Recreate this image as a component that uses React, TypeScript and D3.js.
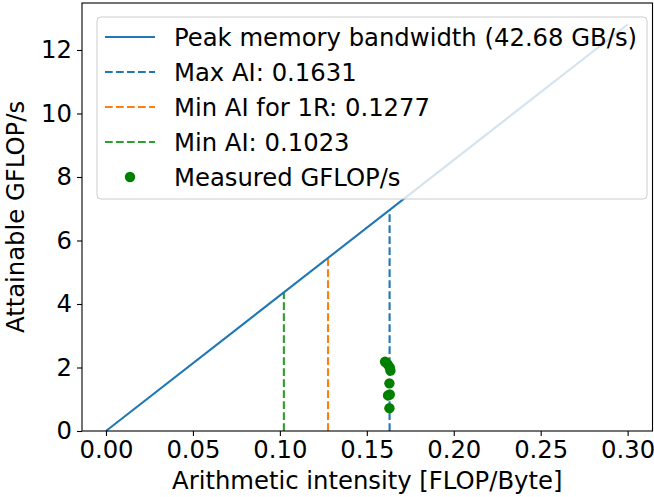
import React, { useRef, useEffect } from 'react';
import * as d3 from 'd3';

// constants
const width = 654;
const height = 497;
const plot = { left: 82, right: 652.5, top: 3, bottom: 431 };
const font = 'DejaVu Sans, sans-serif';
const fontSize = 24.3;

// data
const bandwidth = 42.68;
const lineX = [0, 0.3];
const aiLabels = ['Max AI: 0.1631', 'Min AI for 1R: 0.1277', 'Min AI: 0.1023'];
const aiValues = [0.1631, 0.1277, 0.1023];
const aiColours = ['#1f77b4', '#ff7f0e', '#2ca02c'];
const measuredAI = [0.1605, 0.1620, 0.1632, 0.1636, 0.1630, 0.1622, 0.1632, 0.1630];
const measuredGflops = [2.18, 2.1, 2.0, 1.9, 1.5, 1.12, 1.15, 0.72];
const xTicks = [0, 0.05, 0.1, 0.15, 0.2, 0.25, 0.3];
const yTicks = [0, 2, 4, 6, 8, 10, 12];

const App = () => {
  const xScale = d3.scaleLinear().domain([-0.0138, 0.3143]).range([plot.left, plot.right]);
  const yScale = d3.scaleLinear().domain([0, 13.48]).range([plot.bottom, plot.top]);

  const xAxisRef = useRef<SVGGElement>(null);
  const yAxisRef = useRef<SVGGElement>(null);

  useEffect(() => {
    const xAxis = d3.axisBottom(xScale).tickValues(xTicks).tickFormat(d3.format('.2f'))
      .tickSize(5).tickPadding(5);
    d3.select(xAxisRef.current).call(xAxis)
      .call(g => g.select('.domain').remove())
      .call(g => g.selectAll('text').attr('font-size', fontSize).attr('font-family', font).attr('fill', '#000'));
    const yAxis = d3.axisLeft(yScale).tickValues(yTicks).tickFormat(d3.format('d'))
      .tickSize(5).tickPadding(5);
    d3.select(yAxisRef.current).call(yAxis)
      .call(g => g.select('.domain').remove())
      .call(g => g.selectAll('text').attr('font-size', fontSize).attr('font-family', font).attr('fill', '#000'));
    d3.selectAll('.tick line').attr('stroke', '#000').attr('stroke-width', 1.1);
  }, []);

  const peakLine = d3.line<number>()
    .x(d => xScale(d))
    .y(d => yScale(d * bandwidth));

  const rowY = [37, 72, 107, 142, 177];
  const legendItems = [
    { label: `Peak memory bandwidth (${bandwidth} GB/s)`, colour: '#1f77b4', dash: null, dot: false },
    ...aiLabels.map((l, i) => ({ label: l, colour: aiColours[i], dash: '7.7,3.3', dot: false })),
    { label: 'Measured GFLOP/s', colour: '#008000', dash: null, dot: true },
  ];

  return (
    <svg width={width} height={height} style={{ position: 'absolute', left: 0, top: 0 }}>
      <rect x={0} y={0} width={width} height={height} fill="#fff" />
      {aiValues.map((v, i) => (
        <line key={i} x1={xScale(v)} x2={xScale(v)} y1={yScale(0)} y2={yScale(v * bandwidth)}
          stroke={aiColours[i]} strokeWidth={2.1} strokeDasharray="7.7,3.3" />
      ))}
      <path d={peakLine(lineX) || ''} fill="none" stroke="#1f77b4" strokeWidth={2.1} />
      {measuredAI.map((v, i) => (
        <circle key={i} cx={xScale(v)} cy={yScale(measuredGflops[i])} r={5.2} fill="#008000" />
      ))}
      <rect x={plot.left} y={plot.top} width={plot.right - plot.left} height={plot.bottom - plot.top}
        fill="none" stroke="#000" strokeWidth={1.1} />
      <g ref={xAxisRef} transform={`translate(0,${plot.bottom})`}></g>
      <g ref={yAxisRef} transform={`translate(${plot.left},0)`}></g>
      <text x={(plot.left + plot.right) / 2} y={489} textAnchor="middle" fontFamily={font} fontSize={fontSize}>
        Arithmetic intensity [FLOP/Byte]
      </text>
      <text transform={`translate(24,${(plot.top + plot.bottom) / 2}) rotate(-90)`} textAnchor="middle"
        fontFamily={font} fontSize={fontSize}>
        Attainable GFLOP/s
      </text>
      <g>
        <rect x={97} y={17} width={550} height={182} rx={4} fill="#fff" fillOpacity={0.8} stroke="#cccccc" strokeWidth={1} />
        {legendItems.map((d, i) => (
          <g key={i} transform={`translate(0,${rowY[i]})`}>
            {d.dot
              ? <circle cx={130} cy={0} r={5.2} fill={d.colour} />
              : <line x1={105} x2={155} y1={0} y2={0} stroke={d.colour} strokeWidth={2.1}
                  strokeDasharray={d.dash || undefined} />}
            <text x={174} y={8.5} fontFamily={font} fontSize={fontSize}>{d.label}</text>
          </g>
        ))}
      </g>
    </svg>
  );
};

export default App;
